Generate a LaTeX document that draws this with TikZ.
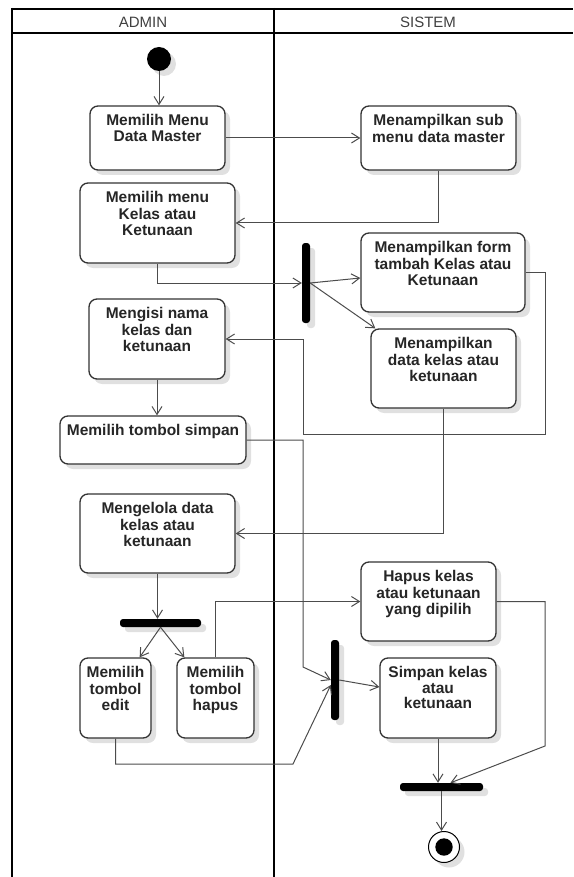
\documentclass[tikz,border=0pt]{standalone}
\usepackage{fontspec}
\setmainfont{Liberation Sans}
\usetikzlibrary{arrows.meta, shadows}

% text of an action box, set at its top
\newcommand{\acttxt}[3]{\parbox[c][\dimexpr#2pt-17pt\relax][t]{\dimexpr#1pt-4pt\relax}{\centering\strut#3}}

\begin{document}
\begin{tikzpicture}[x=1pt, y=-1pt,
  shade/.style={drop shadow={shadow xshift=5pt, shadow yshift=-5pt, fill=black!12, opacity=1}},
  act/.style={draw=black!80, line width=1.3pt, rounded corners=8pt, fill=white, inner xsep=2pt, inner ysep=8.5pt, text=black!85, font=\fontsize{15.5}{15.5}\selectfont\bfseries, shade},
  bar/.style={fill=black, rounded corners=3pt, inner sep=0pt, shade},
  line/.style={draw=black!70, line width=1pt, -{Straight Barb[length=8pt,width=10pt]}},
  lane/.style={draw=black, line width=2pt},
  head/.style={font=\fontsize{15}{15}\selectfont, text=black!75}
]
\useasboundingbox (0,0) rectangle (573,877);

% Swimlanes
\draw[lane] (12,9) -- (573,9);
\draw[lane] (12,33) -- (573,33);
\draw[lane] (12,8) -- (12,877);
\draw[lane] (274,8) -- (274,877);
\node[head] (admin) at (143,22) {ADMIN};
\node[head] (sistem) at (428,22) {SISTEM};

% Start and end
\node[circle, fill=black, minimum size=24pt, inner sep=0pt, shade] (initial) at (159,59) {};
\node[circle, draw=black, line width=1pt, fill=white, minimum size=31pt, inner sep=0pt, shade, path picture={\fill[black] (path picture bounding box.center) circle (8.7pt);}] (final) at (444,847) {};

% Admin actions
\node[act] (mmdm) at (157.5,138) {\acttxt{135}{64}{Memilih Menu\\Data Master}};
\node[act] (mmk) at (157.5,223) {\acttxt{155}{80}{Memilih menu\\Kelas atau\\Ketunaan}};
\node[act] (isi) at (157,339) {\acttxt{136}{80}{Mengisi nama\\kelas dan\\ketunaan}};
\node[act] (simpan) at (153,440) {\acttxt{186}{48}{Memilih tombol simpan}};
\node[act] (kelola) at (157.5,533.5) {\acttxt{155}{79}{Mengelola data\\kelas atau\\ketunaan}};
\node[act] (edit) at (115.5,698) {\acttxt{71}{80}{Memilih\\tombol\\edit}};
\node[act] (hapus) at (215.5,698) {\acttxt{77}{80}{Memilih\\tombol\\hapus}};

% Sistem actions
\node[act] (subm) at (438.5,138) {\acttxt{155}{64}{Menampilkan sub\\menu data master}};
\node[act] (form) at (443,272.5) {\acttxt{164}{79}{Menampilkan form\\tambah Kelas atau\\Ketunaan}};
\node[act] (data) at (443.5,368.5) {\acttxt{145}{79}{Menampilkan\\data kelas atau\\ketunaan}};
\node[act] (hapusk) at (428.5,601.5) {\acttxt{135}{79}{Hapus kelas\\atau ketunaan\\yang dipilih}};
\node[act] (simpank) at (438,698) {\acttxt{116}{80}{Simpan kelas\\atau\\ketunaan}};

% Fork and join bars
\node[bar, minimum width=8pt, minimum height=80pt] (fork1) at (306,283) {};
\node[bar, minimum width=81pt, minimum height=8pt] (forkh) at (160.5,623) {};
\node[bar, minimum width=8pt, minimum height=80pt] (join2) at (335,680) {};
\node[bar, minimum width=83pt, minimum height=8pt] (joinh) at (441.5,787) {};

% Flow
\draw[line] (initial) -- (initial |- mmdm.north);
\draw[line] (mmdm) -- (subm);
\draw[line] (subm.south) |- (mmk.east);
\draw[line] (mmk.south) |- (fork1.west);
\draw[line] (fork1.east) -- ([yshift=-5.5pt]form.west);
\draw[line] (fork1.east) -- ([xshift=5pt]data.north west);

\coordinate (c1) at (545,434);
\coordinate (c2) at (303,434);
\draw[line] (form.east) -| (c1) -- (c2) |- (isi.east);
\draw[line] (isi.south) -- (isi.south |- simpan.north);

\coordinate (c3) at (303,667);
\draw[line] (simpan.east) -| (c3) -- (join2.west);
\draw[line] (data.south) |- (kelola.east);
\draw[line] (kelola.south) -- (kelola.south |- forkh.north);
\draw[line] (forkh.south) -- ([xshift=-12pt]edit.north east);
\draw[line] (forkh.south) -- ([xshift=8pt]hapus.north west);
\draw[line] (hapus.north) |- (hapusk.west);

\coordinate (c4) at (293,764);
\draw[line] (edit.south) |- (c4) -- ([yshift=-5pt]join2.west);
\draw[line] (join2.east) -- ([yshift=11pt]simpank.west);
\draw[line] (simpank.south) -- (simpank.south |- joinh.north);

\coordinate (c5) at (545,746);
\draw[line] (hapusk.east) -| (c5) -- ([xshift=9pt]joinh.north);
\draw[line] (joinh.south) -- (joinh.south |- final.north);

\end{tikzpicture}
\end{document}
